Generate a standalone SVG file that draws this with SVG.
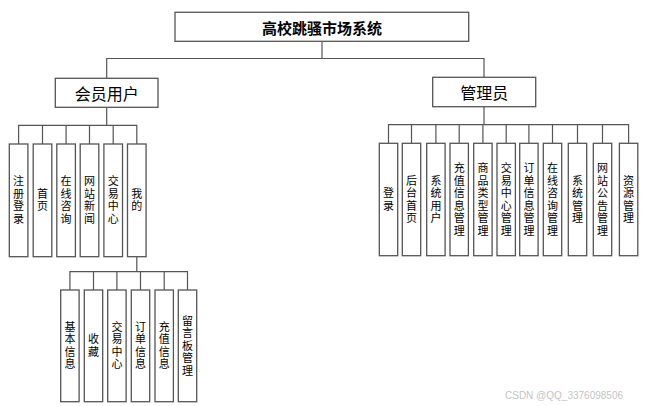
<svg xmlns="http://www.w3.org/2000/svg" width="645" height="406" viewBox="0 0 645 406">
<style>
.box{fill:#fff;stroke:#555;stroke-width:1.3}
.ln{fill:none;stroke:#555;stroke-width:1.2}
text{font-family:"Noto Sans CJK SC","Noto Sans",sans-serif;fill:#000;text-anchor:middle;dominant-baseline:central}
.t0{font-size:15px;font-weight:bold}
.t1{font-size:16px}
.t2{font-family:"Liberation Sans","Noto Sans CJK SC",sans-serif;font-size:11px}
.wm{font-family:"Liberation Sans",sans-serif;font-size:10px;fill:#c4c4c4;text-anchor:start}
</style>
<rect width="645" height="406" fill="#fff"/>
<g id="connectors">
<path class="ln" d="M322,41.3V58.5M106.7,78.3V58.5H484V77.3"/>
<path class="ln" d="M106.7,107.3V125.3M18.6,144V125.3H136.8V144M42.5,125.3V144M66.1,125.3V144M89.5,125.3V144M113.2,125.3V144"/>
<path class="ln" d="M484,106.7V124.7M388.5,143.3V124.7H628.6V143.3M411.5,124.7V143.3M435.9,124.7V143.3M459.2,124.7V143.3M482.9,124.7V143.3M506.2,124.7V143.3M528.9,124.7V143.3M552.5,124.7V143.3M577.5,124.7V143.3M602.5,124.7V143.3"/>
<path class="ln" d="M136.8,256.7V271.7M69.9,290V271.7H187.5V290M93.5,271.7V290M116.9,271.7V290M140.5,271.7V290M164.2,271.7V290"/>
</g>
<g id="root"><rect class="box" x="175" y="12.3" width="293.7" height="29"/><text class="t0" x="322" y="27">高校跳骚市场系统</text></g>
<g id="member"><rect class="box" x="55.3" y="78.3" width="102.7" height="29"/><text class="t1" x="106.7" y="92.8">会员用户</text></g>
<g id="admin"><rect class="box" x="432.7" y="77.3" width="103" height="29.4"/><text class="t1" x="484.2" y="92">管理员</text></g>

<g id="m1"><rect class="box" x="9.3" y="144" width="18.6" height="112.7"/><text class="t2"><tspan x="18.6" y="181.25">注</tspan><tspan x="18.6" y="193.75">册</tspan><tspan x="18.6" y="206.25">登</tspan><tspan x="18.6" y="218.75">录</tspan></text></g>
<g id="m2"><rect class="box" x="33.2" y="144" width="18.6" height="112.7"/><text class="t2"><tspan x="42.5" y="193.75">首</tspan><tspan x="42.5" y="206.25">页</tspan></text></g>
<g id="m3"><rect class="box" x="56.8" y="144" width="18.6" height="112.7"/><text class="t2"><tspan x="66.1" y="181.25">在</tspan><tspan x="66.1" y="193.75">线</tspan><tspan x="66.1" y="206.25">咨</tspan><tspan x="66.1" y="218.75">询</tspan></text></g>
<g id="m4"><rect class="box" x="80.2" y="144" width="18.6" height="112.7"/><text class="t2"><tspan x="89.5" y="181.25">网</tspan><tspan x="89.5" y="193.75">站</tspan><tspan x="89.5" y="206.25">新</tspan><tspan x="89.5" y="218.75">闻</tspan></text></g>
<g id="m5"><rect class="box" x="103.9" y="144" width="18.6" height="112.7"/><text class="t2"><tspan x="113.2" y="181.25">交</tspan><tspan x="113.2" y="193.75">易</tspan><tspan x="113.2" y="206.25">中</tspan><tspan x="113.2" y="218.75">心</tspan></text></g>
<g id="m6"><rect class="box" x="127.5" y="144" width="18.6" height="112.7"/><text class="t2"><tspan x="136.8" y="193.75">我</tspan><tspan x="136.8" y="206.25">的</tspan></text></g>

<g id="g1"><rect class="box" x="60.7" y="290" width="18.4" height="111.7"/><text class="t2"><tspan x="69.9" y="326.75">基</tspan><tspan x="69.9" y="339.25">本</tspan><tspan x="69.9" y="351.75">信</tspan><tspan x="69.9" y="364.25">息</tspan></text></g>
<g id="g2"><rect class="box" x="84.3" y="290" width="18.4" height="111.7"/><text class="t2"><tspan x="93.5" y="339.25">收</tspan><tspan x="93.5" y="351.75">藏</tspan></text></g>
<g id="g3"><rect class="box" x="107.7" y="290" width="18.4" height="111.7"/><text class="t2"><tspan x="116.9" y="326.75">交</tspan><tspan x="116.9" y="339.25">易</tspan><tspan x="116.9" y="351.75">中</tspan><tspan x="116.9" y="364.25">心</tspan></text></g>
<g id="g4"><rect class="box" x="131.3" y="290" width="18.4" height="111.7"/><text class="t2"><tspan x="140.5" y="326.75">订</tspan><tspan x="140.5" y="339.25">单</tspan><tspan x="140.5" y="351.75">信</tspan><tspan x="140.5" y="364.25">息</tspan></text></g>
<g id="g5"><rect class="box" x="155" y="290" width="18.4" height="111.7"/><text class="t2"><tspan x="164.2" y="326.75">充</tspan><tspan x="164.2" y="339.25">值</tspan><tspan x="164.2" y="351.75">信</tspan><tspan x="164.2" y="364.25">息</tspan></text></g>
<g id="g6"><rect class="box" x="178.3" y="290" width="18.4" height="111.7"/><text class="t2"><tspan x="187.5" y="320.5">留</tspan><tspan x="187.5" y="333">言</tspan><tspan x="187.5" y="345.5">板</tspan><tspan x="187.5" y="358">管</tspan><tspan x="187.5" y="370.5">理</tspan></text></g>

<g id="a1"><rect class="box" x="379.3" y="143.3" width="18.4" height="112.4"/><text class="t2"><tspan x="388.5" y="193.25">登</tspan><tspan x="388.5" y="205.75">录</tspan></text></g>
<g id="a2"><rect class="box" x="402.3" y="143.3" width="18.4" height="112.4"/><text class="t2"><tspan x="411.5" y="180.75">后</tspan><tspan x="411.5" y="193.25">台</tspan><tspan x="411.5" y="205.75">首</tspan><tspan x="411.5" y="218.25">页</tspan></text></g>
<g id="a3"><rect class="box" x="426.7" y="143.3" width="18.4" height="112.4"/><text class="t2"><tspan x="435.9" y="180.75">系</tspan><tspan x="435.9" y="193.25">统</tspan><tspan x="435.9" y="205.75">用</tspan><tspan x="435.9" y="218.25">户</tspan></text></g>
<g id="a4"><rect class="box" x="450" y="143.3" width="18.4" height="112.4"/><text class="t2"><tspan x="459.2" y="168.25">充</tspan><tspan x="459.2" y="180.75">值</tspan><tspan x="459.2" y="193.25">信</tspan><tspan x="459.2" y="205.75">息</tspan><tspan x="459.2" y="218.25">管</tspan><tspan x="459.2" y="230.75">理</tspan></text></g>
<g id="a5"><rect class="box" x="473.7" y="143.3" width="18.4" height="112.4"/><text class="t2"><tspan x="482.9" y="168.25">商</tspan><tspan x="482.9" y="180.75">品</tspan><tspan x="482.9" y="193.25">类</tspan><tspan x="482.9" y="205.75">型</tspan><tspan x="482.9" y="218.25">管</tspan><tspan x="482.9" y="230.75">理</tspan></text></g>
<g id="a6"><rect class="box" x="497" y="143.3" width="18.4" height="112.4"/><text class="t2"><tspan x="506.2" y="168.25">交</tspan><tspan x="506.2" y="180.75">易</tspan><tspan x="506.2" y="193.25">中</tspan><tspan x="506.2" y="205.75">心</tspan><tspan x="506.2" y="218.25">管</tspan><tspan x="506.2" y="230.75">理</tspan></text></g>
<g id="a7"><rect class="box" x="519.7" y="143.3" width="18.4" height="112.4"/><text class="t2"><tspan x="528.9" y="168.25">订</tspan><tspan x="528.9" y="180.75">单</tspan><tspan x="528.9" y="193.25">信</tspan><tspan x="528.9" y="205.75">息</tspan><tspan x="528.9" y="218.25">管</tspan><tspan x="528.9" y="230.75">理</tspan></text></g>
<g id="a8"><rect class="box" x="543.3" y="143.3" width="18.4" height="112.4"/><text class="t2"><tspan x="552.5" y="168.25">在</tspan><tspan x="552.5" y="180.75">线</tspan><tspan x="552.5" y="193.25">咨</tspan><tspan x="552.5" y="205.75">询</tspan><tspan x="552.5" y="218.25">管</tspan><tspan x="552.5" y="230.75">理</tspan></text></g>
<g id="a9"><rect class="box" x="568.3" y="143.3" width="18.4" height="112.4"/><text class="t2"><tspan x="577.5" y="180.75">系</tspan><tspan x="577.5" y="193.25">统</tspan><tspan x="577.5" y="205.75">管</tspan><tspan x="577.5" y="218.25">理</tspan></text></g>
<g id="a10"><rect class="box" x="593.3" y="143.3" width="18.4" height="112.4"/><text class="t2"><tspan x="602.5" y="168.25">网</tspan><tspan x="602.5" y="180.75">站</tspan><tspan x="602.5" y="193.25">公</tspan><tspan x="602.5" y="205.75">告</tspan><tspan x="602.5" y="218.25">管</tspan><tspan x="602.5" y="230.75">理</tspan></text></g>
<g id="a11"><rect class="box" x="619.4" y="143.3" width="18.4" height="112.4"/><text class="t2"><tspan x="628.6" y="180.75">资</tspan><tspan x="628.6" y="193.25">源</tspan><tspan x="628.6" y="205.75">管</tspan><tspan x="628.6" y="218.25">理</tspan></text></g>

<text class="wm" x="505" y="395">CSDN @QQ_3376098506</text>
</svg>
